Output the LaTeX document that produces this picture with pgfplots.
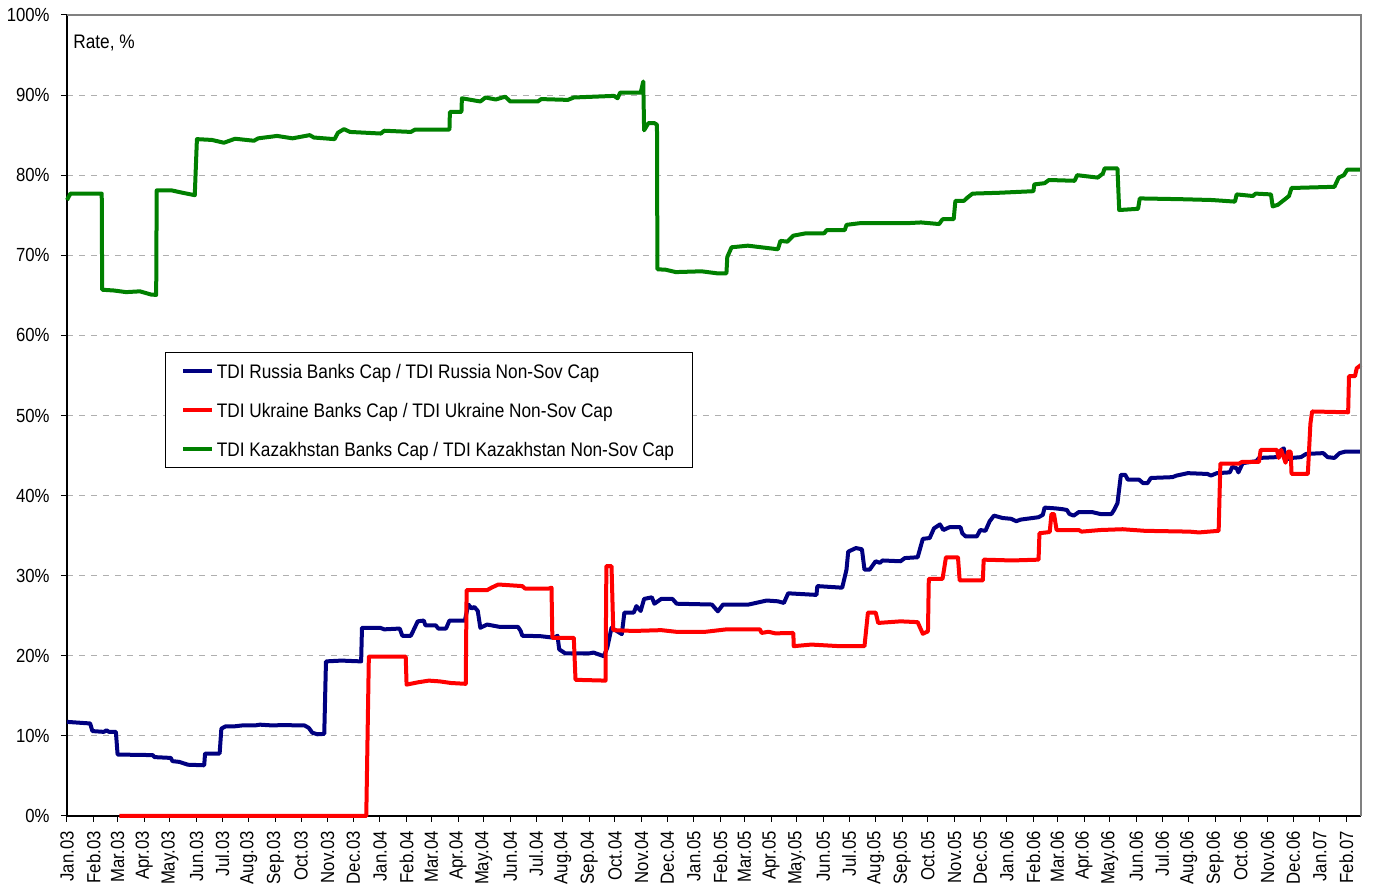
\documentclass[border=0pt]{standalone}
\usepackage{fontspec}
\setmainfont{Liberation Sans}
\newfontfamily\narrow[FakeStretch=0.88]{Liberation Sans}
\usepackage{pgfplots}
\pgfplotsset{compat=1.18}
\usepackage{pgfplotstable}
\definecolor{rus}{RGB}{0,0,128}
\definecolor{ukr}{RGB}{255,0,0}
\definecolor{kaz}{RGB}{0,128,0}
\definecolor{gridgray}{RGB}{175,175,175}
\definecolor{bordergray}{RGB}{128,128,128}

\pgfplotstableread{
day val
0 11.75
27 11.55
29.6 10.6
43 10.5
46 10.7
49 10.5
57 10.5
59 7.67
100 7.6
102 7.35
121 7.25
123 6.85
131 6.75
141 6.4
160 6.33
161 7.8
178 7.8
180 10.9
185 11.2
196 11.2
204 11.3
219 11.3
225 11.4
240 11.3
250 11.35
277 11.3
282 11.0
286 10.4
292 10.2
300 10.25
302 19.3
320 19.4
343 19.3
344 23.5
365 23.5
370 23.3
388 23.4
391 22.5
401 22.5
409 24.3
416 24.4
418 23.8
430 23.8
433 23.4
442 23.4
446 24.4
464 24.4
468 26.4
472 25.9
475 26.1
479 25.6
482 23.5
490 23.9
505 23.6
526 23.6
529 23.1
531 22.5
552 22.45
568 22.25
572 22.5
574 20.8
581 20.3
609 20.3
614 20.4
626 19.95
630 21.0
635 23.5
647 22.7
650 25.4
661 25.4
664 26.2
669 25.6
673 27.1
682 27.3
685 26.5
693 27.1
706 27.1
711 26.5
752 26.4
759 25.55
765 26.4
795 26.4
816 26.9
829 26.8
836 26.6
841 27.8
874 27.6
875 28.7
904 28.5
909 30.75
911 33.0
920 33.45
927 33.3
930 30.75
936 30.75
943 31.8
948 31.6
951 31.9
972 31.8
977 32.2
992 32.3
998 34.6
1006 34.7
1011 35.9
1018 36.4
1022 35.7
1029 36.05
1042 36.05
1044 35.3
1048 34.9
1061 34.9
1065 35.7
1071 35.6
1076 36.8
1081 37.5
1091 37.2
1101 37.1
1107 36.8
1112 37.0
1133 37.3
1138 37.6
1140 38.5
1153 38.4
1161 38.3
1166 38.2
1169 37.7
1174 37.5
1180 37.95
1195 37.95
1205 37.7
1218 37.7
1221 38.2
1225 39.05
1229 42.6
1234 42.6
1237 42.0
1250 42.0
1255 41.55
1260 41.55
1264 42.2
1289 42.3
1294 42.5
1307 42.8
1330 42.7
1334 42.5
1341 42.8
1356 42.9
1359 43.6
1364 43.4
1366 42.9
1371 44.05
1387 44.3
1390 44.7
1411 44.8
1416 45.7
1419 45.9
1421 44.5
1428 44.7
1439 44.8
1445 45.2
1465 45.3
1470 44.8
1478 44.7
1484 45.3
1491 45.5
1509 45.5
}\rusdata

\pgfplotstableread{
day val
61 0
349 0
352 19.9
395 19.9
396 16.4
410 16.7
422 16.9
435 16.8
448 16.6
465 16.5
466 28.2
490 28.2
495 28.5
503 28.9
531 28.7
534 28.4
562 28.4
565 28.5
566 22.25
591 22.25
593 17.0
628 16.9
629 31.2
635 31.2
637 23.2
661 23.1
693 23.2
710 23.0
745 23.0
769 23.3
808 23.3
810 22.85
818 23.0
826 22.8
847 22.85
847.5 21.2
868 21.4
901 21.2
930 21.2
934 25.4
943 25.4
946 24.1
972 24.3
992 24.2
998 22.75
1004 23.05
1005 29.6
1021 29.6
1025 32.3
1039 32.3
1041 29.4
1068 29.4
1069 32.0
1102 31.9
1133 32.0
1134 35.3
1146 35.45
1148 37.7
1151 37.7
1154 35.7
1180 35.7
1183 35.5
1205 35.7
1231 35.8
1257 35.6
1309 35.5
1320 35.4
1343 35.6
1345 44.0
1367 44.0
1370 44.2
1390 44.2
1392 45.7
1411 45.7
1413 44.7
1416 45.7
1421 44.1
1424 45.5
1427 45.5
1428 42.7
1447 42.7
1450 49.0
1452 50.5
1494 50.4
1495 54.9
1502 54.9
1504 55.9
1509 56.3
}\ukrdata

\pgfplotstableread{
day val
0 76.9
4 77.7
40.5 77.7
41 65.7
55 65.6
69 65.4
85 65.5
98 65.1
104 65.05
104.6 78.1
122 78.1
135 77.8
149 77.5
151.5 84.5
169 84.4
183 84.05
196 84.55
218 84.3
223 84.6
245 84.9
263 84.6
283 85.0
288 84.7
312 84.5
316 85.3
323 85.75
330 85.4
366 85.2
370 85.55
401 85.4
406 85.7
446 85.7
446.5 87.9
460 87.9
460.5 89.6
482 89.2
488 89.7
500 89.45
511 89.8
517 89.2
549 89.2
553 89.5
584 89.4
591 89.7
638 89.9
642 89.6
645 90.3
669 90.3
672 91.7
673 85.6
678 86.5
685 86.5
688 86.3
688.5 68.25
698 68.2
710 67.9
740 68.0
758 67.75
769 67.75
770 69.8
775 71.0
794 71.2
829 70.75
832 71.8
840 71.7
847 72.45
862 72.75
883 72.75
886 73.15
907 73.15
909 73.8
924 74.0
978 74.0
996 74.1
1017 73.9
1021 74.5
1034 74.5
1036 76.8
1046 76.8
1050 77.2
1056 77.7
1086 77.8
1127 78.0
1128 78.85
1140 79.0
1145 79.4
1175 79.3
1178 80.0
1202 79.7
1208 80.2
1210 80.85
1225 80.85
1227 75.65
1249 75.8
1251 77.1
1300 77.0
1335 76.9
1362 76.7
1364 77.6
1383 77.4
1386 77.7
1404 77.6
1406 76.1
1412 76.3
1418 76.8
1425 77.4
1428 78.4
1478 78.55
1483 79.7
1489 80.0
1493 80.7
1509 80.7
}\kazdata

\begin{document}
\begin{tikzpicture}
\begin{axis}[
  at={(0,0)}, anchor=south west,
  scale only axis, width=647pt, height=400.5pt,
  xmin=0, xmax=1509, ymin=0, ymax=100,
  clip=false,
  axis x line*=bottom, axis y line*=left,
  axis line style={-, black, line width=0.6pt},
  xtick={0,31,59,90,120,151,181,212,243,273,304,334,365,396,425,456,486,517,547,578,609,639,670,700,731,762,790,821,851,882,912,943,974,1004,1035,1065,1096,1127,1155,1186,1216,1247,1277,1308,1339,1369,1400,1430,1461,1492},
  xticklabels={Jan.03,Feb.03,Mar.03,Apr.03,May.03,Jun.03,Jul.03,Aug.03,Sep.03,Oct.03,Nov.03,Dec.03,Jan.04,Feb.04,Mar.04,Apr.04,May.04,Jun.04,Jul.04,Aug.04,Sep.04,Oct.04,Nov.04,Dec.04,Jan.05,Feb.05,Mar.05,Apr.05,May.05,Jun.05,Jul.05,Aug.05,Sep.05,Oct.05,Nov.05,Dec.05,Jan.06,Feb.06,Mar.06,Apr.06,May.06,Jun.06,Jul.06,Aug.06,Sep.06,Oct.06,Nov.06,Dec.06,Jan.07,Feb.07},
  ytick={0,10,20,30,40,50,60,70,80,90,100},
  yticklabels={0\%,10\%,20\%,30\%,40\%,50\%,60\%,70\%,80\%,90\%,100\%},
  tick align=outside, major tick length=3pt,
  tick style={black, line width=0.5pt},
  x tick label style={rotate=90, anchor=east, font=\narrow\fontsize{9.5}{10}\selectfont, inner xsep=4.5pt, inner ysep=1pt},
  y tick label style={font=\narrow\fontsize{9.5}{10}\selectfont, inner xsep=5.5pt, inner ysep=1pt},
  ymajorgrids,
  grid style={gridgray, dash pattern=on 3pt off 3pt, line width=0.5pt},
  legend cell align=left,
  legend style={at={(0.0757,0.579)}, anchor=north west, draw=black, line width=0.5pt, fill=white,
    font=\narrow\fontsize{9.8}{11}\selectfont, inner xsep=8pt, inner ysep=3.5pt, row sep=8pt,
    nodes={inner xsep=1.2pt, inner ysep=1.5pt, text height=8pt, text depth=0.5pt}},
  legend image code/.code={\draw[#1, line width=2pt] (2pt,0pt) -- (16.5pt,0pt);},
]
\addplot[rus, line width=2pt, line join=round] table[x=day, y=val] {\rusdata};
\addlegendentry{TDI Russia Banks Cap / TDI Russia Non-Sov Cap}
\addplot[ukr, line width=2pt, line join=round] table[x=day, y=val] {\ukrdata};
\addlegendentry{TDI Ukraine Banks Cap / TDI Ukraine Non-Sov Cap}
\addplot[kaz, line width=2pt, line join=round] table[x=day, y=val] {\kazdata};
\addlegendentry{TDI Kazakhstan Banks Cap / TDI Kazakhstan Non-Sov Cap}
\draw[bordergray, line width=0.6pt] (rel axis cs:0,1) -- (rel axis cs:1,1) -- (rel axis cs:1,0);
\node[anchor=west, inner sep=0pt, xshift=3pt, yshift=-14pt, font=\narrow\fontsize{9.8}{11}\selectfont] at (rel axis cs:0,1) {Rate, \%};
\end{axis}
\pgfresetboundingbox
\path (-33.5pt,-35pt) rectangle (666pt,408pt);
\end{tikzpicture}
\end{document}
